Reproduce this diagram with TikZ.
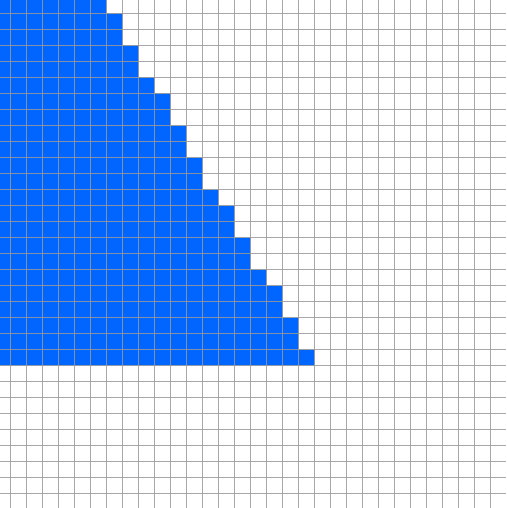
\documentclass[tikz,border=0pt]{standalone}
\usepackage{tikz}
\definecolor{cellblue}{HTML}{0066FF}
\definecolor{gridgray}{HTML}{999999}
\tikzset{
  gridline/.style={draw=gridgray, draw opacity=0.85, line width=1.3pt},
  bluefill/.style={fill=cellblue, draw=none}
}
\begin{document}
\begin{tikzpicture}[x=1pt,y=-1pt]
\useasboundingbox (0,0) rectangle (506,508);
\fill[white] (0,0) rectangle (506,508);
\begin{scope}[shift={(0.5,0.5)}]
\path[bluefill] (-0.5,-0.5) -- (106,-0.5) -- (106,13) -- (122,13) -- (122,45) -- (138,45) -- (138,77) -- (154,77) -- (154,93) -- (170,93) -- (170,125) -- (186,125) -- (186,157) -- (202,157) -- (202,189) -- (218,189) -- (218,205) -- (234,205) -- (234,237) -- (250,237) -- (250,269) -- (266,269) -- (266,285) -- (282,285) -- (282,317) -- (298,317) -- (298,349) -- (314,349) -- (314,365) -- (-0.5,365) -- cycle;
\foreach \i in {0,...,30} {
  \draw[gridline] ({10+16*\i},-0.5) -- ({10+16*\i},507.5);
}
\foreach \j in {0,...,30} {
  \draw[gridline] (-0.5,{13+16*\j}) -- (505.5,{13+16*\j});
}
\end{scope}
\end{tikzpicture}
\end{document}
